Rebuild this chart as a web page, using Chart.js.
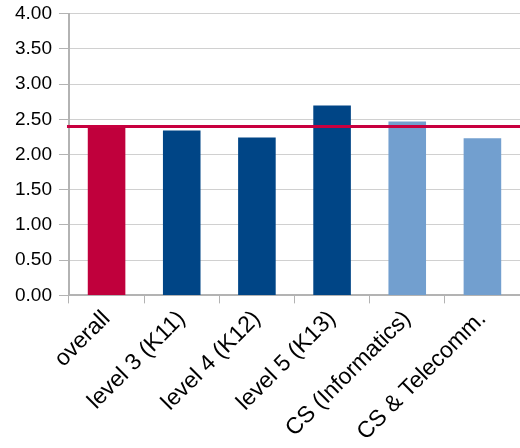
<!DOCTYPE html>
<html>
<head>
<meta charset="utf-8">
<script src="https://cdn.jsdelivr.net/npm/chart.js@4"></script>
<style>
  html, body { margin: 0; padding: 0; background: #fff; }
  #wrap { width: 520px; height: 448px; }
</style>
</head>
<body>
<div id="wrap"><canvas id="myChart"></canvas></div>
<script>
const categories = ['overall', 'level 3 (K11)', 'level 4 (K12)', 'level 5 (K13)', 'CS (Informatics)', 'CS & Telecomm.'];
const scores = [2.40, 2.34, 2.24, 2.695, 2.47, 2.23];
const barColors = ['#C0003C', '#004586', '#004586', '#004586', '#729FCF', '#729FCF'];
const averageLine = 2.405;
const yTicks = [0, 0.5, 1, 1.5, 2, 2.5, 3, 3.5, 4];

// red horizontal line for the overall average
const avgLinePlugin = {
  id: 'avgLine',
  afterDatasetsDraw(chart) {
    const c = chart.ctx;
    const y = Math.round(chart.scales.y.getPixelForValue(averageLine)) + 0.5;
    c.save();
    c.strokeStyle = '#C8003F';
    c.lineWidth = 3;
    c.beginPath();
    c.moveTo(chart.chartArea.left - 2, y);
    c.lineTo(chart.chartArea.right, y);
    c.stroke();
    c.restore();
  }
};

const ctx = document.getElementById('myChart');
new Chart(ctx, {
  type: 'bar',
  data: {
    labels: categories,
    datasets: [{
      data: scores,
      backgroundColor: barColors,
      borderWidth: 0,
      categoryPercentage: 1,
      barPercentage: 0.5
    }]
  },
  plugins: [avgLinePlugin],
  options: {
    responsive: true,
    maintainAspectRatio: false,
    animation: false,
    layout: { padding: { top: 0, right: 0, left: 8, bottom: 0 } },
    plugins: { legend: { display: false }, tooltip: { enabled: false } },
    scales: {
      x: {
        offset: true,
        grid: { offset: true, drawOnChartArea: false, color: '#b3b3b3', tickLength: 8 },
        border: { color: '#b3b3b3', width: 2 },
        ticks: {
          color: '#000',
          font: { family: 'Liberation Sans', size: 23 },
          minRotation: 45, maxRotation: 45,
          autoSkip: false, padding: 2
        }
      },
      y: {
        min: 0, max: 4,
        afterBuildTicks(axis) { axis.ticks = yTicks.map(v => ({ value: v })); },
        grid: { color: '#d0d0d0', tickLength: 10, tickColor: '#b3b3b3' },
        border: { color: '#b3b3b3', width: 2 },
        ticks: {
          color: '#000',
          font: { family: 'Liberation Sans', size: 19, lineHeight: 0.7 },
          padding: 7,
          callback: v => v.toFixed(2)
        }
      }
    }
  }
});
</script>
</body>
</html>
